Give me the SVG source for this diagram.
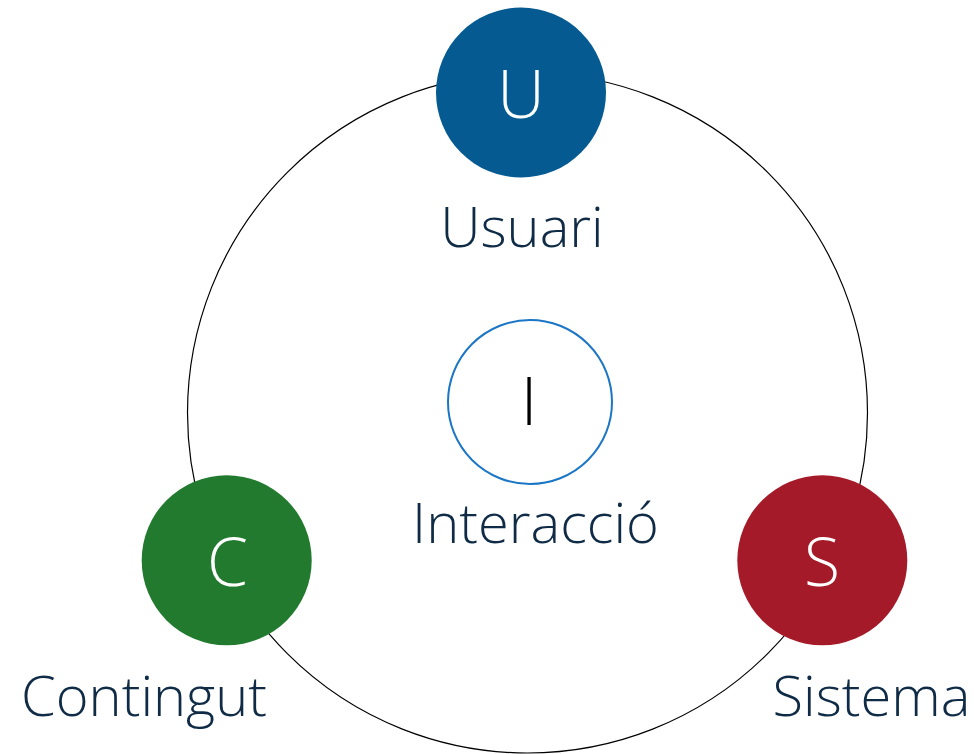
<svg xmlns="http://www.w3.org/2000/svg" width="974" height="754" viewBox="0 0 974 754">
<style>
.lbl{font-family:"Open Sans","Liberation Sans",sans-serif;font-weight:300;font-size:56px;fill:#0F2B46;text-anchor:middle}
.ini{font-family:"Open Sans","Liberation Sans",sans-serif;font-weight:300;font-size:66px;text-anchor:middle}
</style>
<rect width="974" height="754" fill="#ffffff"/>
<g id="connectors">
<circle cx="527.5" cy="413" r="340" fill="none" stroke="#000000" stroke-width="1.2"/>
</g>
<g id="node-U">
<circle cx="521" cy="92.5" r="85" fill="#045A91"/>
<text class="ini" x="521" y="118" fill="#ffffff">U</text>
<text class="lbl" x="522" y="247">Usuari</text>
</g>
<g id="node-I">
<circle cx="530" cy="402" r="82" fill="#ffffff" stroke="#1B76C6" stroke-width="2"/>
<text class="ini" x="529" y="425" fill="#000000">I</text>
<text class="lbl" x="535.5" y="543">Interacció</text>
</g>
<g id="node-C">
<circle cx="226.7" cy="560.3" r="85" fill="#217A2E"/>
<text class="ini" x="227.5" y="586" fill="#ffffff">C</text>
<text class="lbl" x="144" y="716">Contingut</text>
</g>
<g id="node-S">
<circle cx="822.3" cy="560.3" r="85" fill="#A51A28"/>
<text class="ini" x="822" y="586" fill="#ffffff">S</text>
<text class="lbl" x="871.5" y="716">Sistema</text>
</g>
</svg>
